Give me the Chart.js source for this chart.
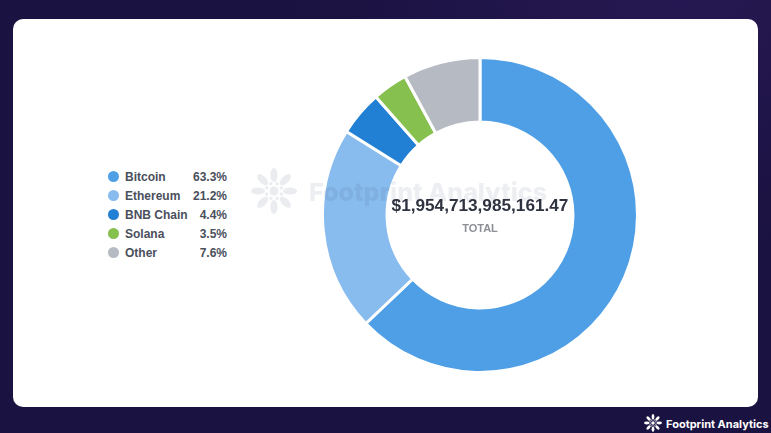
<!DOCTYPE html>
<html>
<head>
<meta charset="utf-8">
<script src="https://cdn.jsdelivr.net/npm/chart.js@4"></script>
<style>
  html, body { margin: 0; padding: 0; }
  body { width: 771px; height: 433px; overflow: hidden; position: relative; background: #1a1240; font-family: "Liberation Sans", sans-serif; }
  #glow { position: absolute; inset: 0; background: radial-gradient(ellipse at 88% 0%, #261852 0%, rgba(38,24,82,0) 40%); }
  #card { position: absolute; left: 13px; top: 19px; width: 745px; height: 388px; background: #fff; border-radius: 10px; }
  #wrap { position: absolute; left: 321px; top: 56px; width: 318px; height: 318px; }
  #legend { position: absolute; left: 108px; top: 167px; width: 119px; }
  .row { display: flex; align-items: center; height: 19px; font-size: 12px; font-weight: 700; color: #4a4f5c; }
  .dot { width: 11px; height: 11px; border-radius: 50%; margin-right: 6px; flex: none; }
  .val { margin-left: auto; }
  #total { position: absolute; left: 360px; width: 240px; top: 195px; text-align: center; font-size: 17.2px; font-weight: 700; color: #2f3340; }
  #totalLabel { position: absolute; left: 360px; width: 240px; top: 222px; text-align: center; font-size: 11px; font-weight: 700; color: #8c8f96; }
  #wmText { position: absolute; left: 309px; top: 177px; font-family: Inter, sans-serif; font-size: 25px; font-weight: 800; color: #3c4a66; opacity: 0.09; white-space: nowrap; }
  #wmIcon { position: absolute; left: 249px; top: 168px; opacity: 0.1; }
  #footIcon { position: absolute; left: 643px; top: 414px; }
  #footText { position: absolute; left: 666px; top: 417px; font-family: Inter, sans-serif; font-size: 11px; font-weight: 700; color: #fff; white-space: nowrap; }
</style>
</head>
<body>
<div id="glow"></div>
<div id="card"></div>
<div id="legend"></div>
<div id="wrap"><canvas id="myChart"></canvas></div>
<div id="wmText">Footprint Analytics</div>
<svg id="wmIcon" width="50" height="46" viewBox="-25 -23 50 46"></svg>
<div id="total"></div>
<div id="totalLabel">TOTAL</div>
<svg id="footIcon" width="20" height="18" viewBox="-25 -23 50 46"></svg>
<div id="footText">Footprint Analytics</div>
<script>
const labels = ['Bitcoin', 'Ethereum', 'BNB Chain', 'Solana', 'Other'];
const shareLabels = ['63.3%', '21.2%', '4.4%', '3.5%', '7.6%'];
// slice sizes as measured on the ring, they differ a little from the printed shares
const sliceValues = [62.9, 21.0, 4.6, 3.6, 7.9];
const colors = ['#4f9fe6', '#88bbee', '#2180d3', '#86c04e', '#b6bbc3'];
const totalText = '$1,954,713,985,161.47';

const legend = document.getElementById('legend');
labels.forEach((name, i) => {
  const row = document.createElement('div');
  row.className = 'row';
  row.innerHTML = '<span class="dot" style="background:' + colors[i] + '"></span><span>' + name + '</span><span class="val">' + shareLabels[i] + '</span>';
  legend.appendChild(row);
});
document.getElementById('total').textContent = totalText;

// logo: ring of petals round a hub
function drawLogo(id, fill) {
  let out = '<circle r="4.5" fill="' + fill + '"/>';
  for (let k = 0; k < 8; k++) {
    const a = k * 45;
    out += '<ellipse cx="0" cy="-16" rx="3.6" ry="7" fill="' + fill + '" transform="rotate(' + a + ')"/>';
    out += '<circle cx="0" cy="-8" r="1.7" fill="' + fill + '" transform="rotate(' + (a + 22.5) + ')"/>';
  }
  document.getElementById(id).innerHTML = out;
}
drawLogo('wmIcon', '#3c4a66');
drawLogo('footIcon', '#ffffff');

new Chart(document.getElementById('myChart'), {
  type: 'doughnut',
  data: {
    labels: labels,
    datasets: [{ data: sliceValues, backgroundColor: colors, borderColor: '#ffffff', borderWidth: 3 }]
  },
  options: {
    responsive: true,
    maintainAspectRatio: true,
    animation: false,
    cutout: '59%',
    plugins: { legend: { display: false }, tooltip: { enabled: false } }
  }
});
</script>
</body>
</html>
